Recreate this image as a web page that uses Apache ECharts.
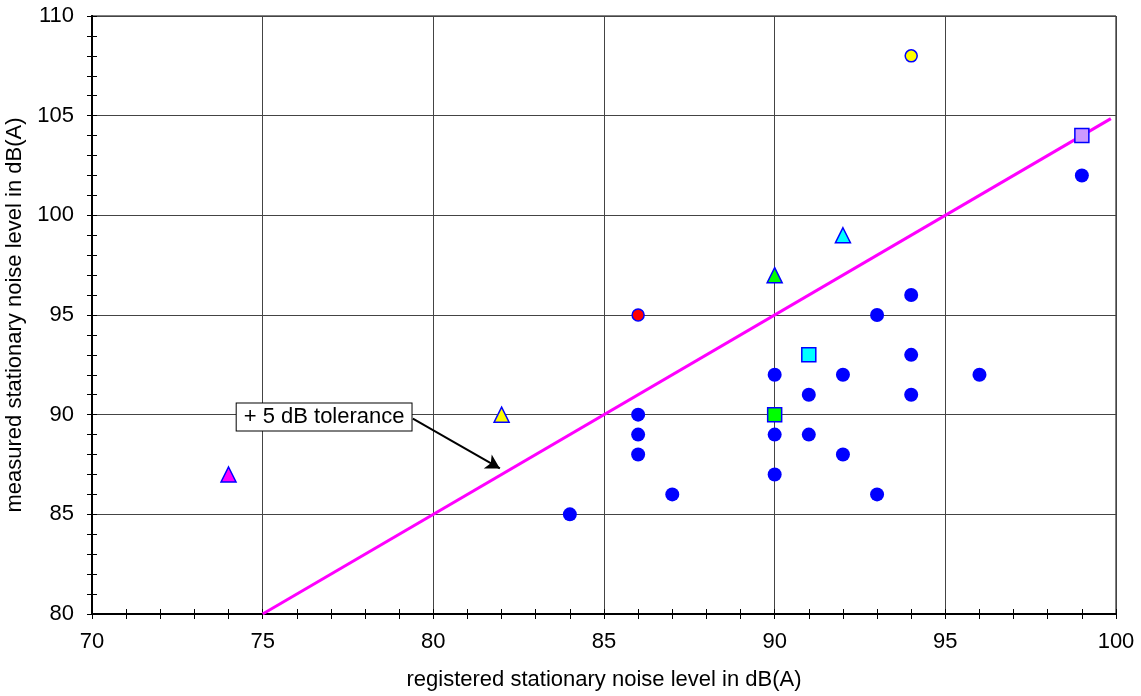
<!DOCTYPE html>
<html><head><meta charset="utf-8">
<script src="https://cdn.jsdelivr.net/npm/echarts@6/dist/echarts.min.js"></script>
<style>html,body{margin:0;padding:0;background:#fff}#c{width:1141px;height:696px}</style>
</head><body><div id="c"></div>
<script>
var xTicks = [70, 75, 80, 85, 90, 95, 100];
var yTicks = [80, 85, 90, 95, 100, 105, 110];
var bluePoints = [[84,85],[86,90],[86,89],[86,88],[87,86],[90,92],[90,89],[90,87],[91,91],[91,89],[92,92],[92,88],[93,95],[93,86],[94,96],[94,93],[94,91],[96,92],[99,102]];
var redCircle = [[86,95]];
var yellowCircle = [[94,108]];
var magentaTriangle = [[74,87]];
var yellowTriangle = [[82,90]];
var greenTriangle = [[90,97]];
var cyanTriangle = [[92,99]];
var greenSquare = [[90,90]];
var cyanSquare = [[91,93]];
var lavenderSquare = [[99,104]];
var toleranceLine = [[75,80],[99.85,104.85]];
var annotationText = '+ 5 dB tolerance';
var annotationAnchor = [76.8, 89.88];
var arrowFrom = [79.4, 89.8];
var arrowTo = [81.95, 87.3];

var font = 'Arial, "Liberation Sans", sans-serif';
function mk(data, symbol, size, fill, border) {
  return {type:'scatter', data:data, symbol:symbol, symbolSize:size, z:5,
    itemStyle:{color:fill, borderColor:border||'#0000ff', borderWidth:border?1.5:0, opacity:1}};
}
function xAx(inside, main) {
  return {type:'value', min:70, max:100, interval:5, position:'bottom', offset:0,
    name: main ? 'registered stationary noise level in dB(A)' : '', nameLocation:'middle', nameGap:55,
    nameTextStyle:{fontFamily:font, fontSize:22, color:'#000'},
    axisLine:{show:true, onZero:false, lineStyle:{color:'#000', width:2}},
    axisTick:{show:true, inside:inside, length:5, lineStyle:{color:'#000'}},
    minorTick:{show:true, splitNumber:5, length:5, lineStyle:{color:'#000'}},
    axisLabel:{show:main, fontFamily:font, fontSize:22, color:'#000', margin:17},
    splitLine:{show:main, lineStyle:{color:'#444', width:1}}};
}
function yAx(inside, main) {
  return {type:'value', min:80, max:110, interval:5, position:'left', offset:0,
    name: main ? 'measured stationary noise level in dB(A)' : '', nameLocation:'middle', nameGap:59,
    nameTextStyle:{fontFamily:font, fontSize:22, color:'#000'},
    axisLine:{show:true, onZero:false, lineStyle:{color:'#000', width:2}},
    axisTick:{show:true, inside:inside, length:5, lineStyle:{color:'#000'}},
    minorTick:{show:true, splitNumber:5, length:5, lineStyle:{color:'#000'}},
    axisLabel:{show:main, fontFamily:font, fontSize:22, color:'#000', margin:18},
    splitLine:{show:main, lineStyle:{color:'#444', width:1}}};
}
var chart = echarts.init(document.getElementById('c'), null, {renderer:'canvas'});
chart.setOption({
  animation:false,
  grid:{left:92, right:25, top:16, bottom:82, containLabel:false, outerBoundsMode:'none',
    show:true, borderColor:'#000', borderWidth:1},
  xAxis:[xAx(false,true), xAx(true,false)],
  yAxis:[yAx(false,true), yAx(true,false)],
  series:[
    {type:'line', data:toleranceLine, symbol:'none', z:3, lineStyle:{color:'#ff00ff', width:3},
      markLine:{silent:true, symbol:['none','arrow'], symbolSize:[12,14], animation:false,
        lineStyle:{color:'#000', width:2, type:'solid'}, label:{show:false},
        data:[[{coord:arrowFrom},{coord:arrowTo}]]}},
    mk(bluePoints,'circle',14,'#0000ff'),
    mk(redCircle,'circle',12,'#ff0000','#0000ff'),
    mk(yellowCircle,'circle',12,'#ffff00','#0000ff'),
    mk(magentaTriangle,'triangle',15,'#ff00ff','#0000ff'),
    mk(yellowTriangle,'triangle',15,'#ffff00','#0000ff'),
    mk(greenTriangle,'triangle',15,'#00ff00','#0000ff'),
    mk(cyanTriangle,'triangle',15,'#00ffff','#0000ff'),
    mk(greenSquare,'rect',14,'#00ff00','#0000ff'),
    mk(cyanSquare,'rect',14,'#00ffff','#0000ff'),
    mk(lavenderSquare,'rect',14,'#cc99ff','#0000ff'),
    {type:'scatter', data:[annotationAnchor], symbolSize:0, z:7, silent:true,
      itemStyle:{opacity:1},
      label:{show:true, position:'inside', formatter:annotationText, fontFamily:font, fontSize:22, color:'#000',
        opacity:1, textBorderWidth:0,
        backgroundColor:'#fff', borderColor:'#000', borderWidth:1, padding:[3,7,2,7]}}
  ]
});
</script></body></html>
